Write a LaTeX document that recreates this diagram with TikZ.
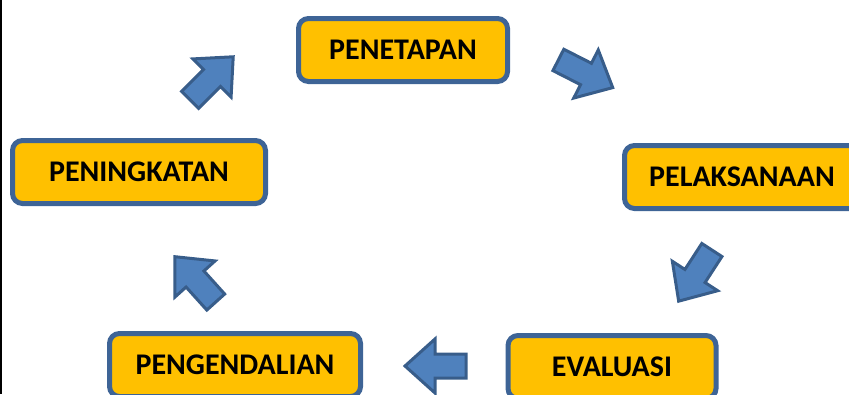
\documentclass[tikz,border=0pt]{standalone}
\usepackage{fontspec}
\setmainfont{Carlito}
\definecolor{boxfill}{HTML}{FFC000}
\definecolor{boxline}{HTML}{3E6496}
\definecolor{arrfill}{HTML}{4F81BD}
\definecolor{arrline}{HTML}{385D8A}
\newcommand\bkarrow[3]{%
  \draw[blockarrow, shift={(#1,#2)}, rotate=#3]
    (30,0) -- (0,27) -- (0,12) -- (-31,12) -- (-31,-12) -- (0,-12) -- (0,-27) -- cycle;}
\begin{document}
\begin{tikzpicture}[x=1pt,y=-1pt,
  box/.style={draw=boxline, fill=boxfill, line width=5pt, rounded corners=10pt,
    font=\fontsize{30}{36}\selectfont\bfseries, text=black, minimum height=63pt, inner sep=0pt},
  blockarrow/.style={draw=arrline, fill=arrfill, line width=3pt, line join=miter}]
\useasboundingbox (0,0) rectangle (849,394);
\fill[black] (0,0) rectangle (2,394);
\node[box, minimum width=209pt] (penetapan) at (403,50) {PENETAPAN};
\node[box, minimum width=235pt] (pelaksanaan) at (742,177) {PELAKSANAAN};
\node[box, minimum width=208pt] (evaluasi) at (612,367) {EVALUASI};
\node[box, minimum width=251pt] (pengendalian) at (235,365) {PENGENDALIAN};
\node[box, minimum width=253pt] (peningkatan) at (139,172) {PENINGKATAN};
\bkarrow{586}{74}{-27}
\bkarrow{695}{276}{237}
\bkarrow{435}{366}{180}
\bkarrow{195}{279}{132}
\bkarrow{212}{78}{45}
\end{tikzpicture}
\end{document}
